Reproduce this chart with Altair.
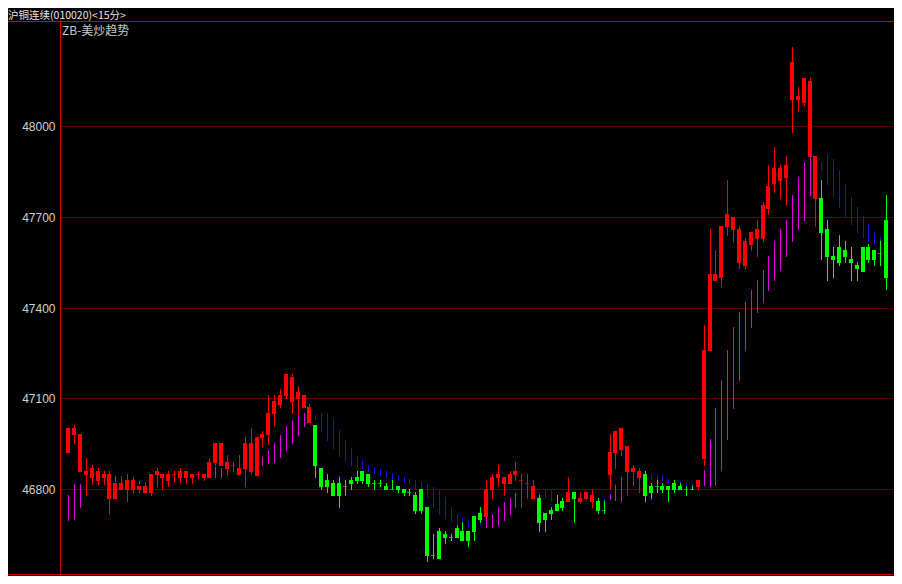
import altair as alt
import pandas as pd

TITLE = "沪铜连续(010020)<15分>"
SUBTITLE = "ZB-美炒趋势"
y_ticks = [46800, 47100, 47400, 47700, 48000]

opens = [
    46920, 46979, 46857, 46847, 46837, 46827, 46837, 46768, 46768, 46798,
    46798, 46798, 46798, 46788, 46788, 46847, 46837, 46827, 46850, 46837,
    46837, 46837, 46850, 46837, 46837, 46887, 46877, 46867, 46880, 46847,
    46867, 46857, 46844, 46969, 46979, 47049, 47078, 47108, 47088, 47098,
    47068, 47019, 47012, 46870, 46831, 46821, 46821, 46811, 46831, 46841,
    46860, 46850, 46821, 46821, 46811, 46801, 46811, 46801, 46791, 46781,
    46801, 46742, 46583, 46662, 46652, 46642, 46672, 46662, 46662, 46712,
    46722, 46709, 46798, 46837, 46818, 46818, 46847, 46831, 46821, 46768,
    46771, 46722, 46732, 46751, 46761, 46758, 46791, 46758, 46768, 46758,
    46761, 46732, 46847, 46920, 46930, 46857, 46857, 46837, 46850, 46811,
    46811, 46811, 46811, 46821, 46811, 46801, 46801, 46808, 46900, 47257,
    47488, 47498, 47666, 47656, 47547, 47538, 47607, 47627, 47627, 47726,
    47808, 47818, 47828, 48086, 48086, 48076, 47898, 47759, 47762, 47660,
    47571, 47600, 47590, 47561, 47541, 47600, 47600, 47590, 47581, 47690,
]
highs = [
    47002, 47012, 46983, 46903, 46880, 46870, 46860, 46860, 46821, 46844,
    46850, 46841, 46811, 46824, 46850, 46870, 46850, 46860, 46860, 46870,
    46860, 46850, 46860, 46850, 46903, 46953, 46953, 46913, 46890, 46913,
    46973, 47002, 46973, 46993, 47111, 47111, 47131, 47181, 47181, 47141,
    47111, 47082, 47012, 46870, 46850, 46831, 46841, 46831, 46841, 46860,
    46860, 46850, 46831, 46831, 46821, 46831, 46811, 46801, 46801, 46791,
    46801, 46742, 46652, 46672, 46662, 46652, 46682, 46692, 46662, 46712,
    46742, 46831, 46850, 46880, 46841, 46860, 46890, 46850, 46850, 46831,
    46781, 46722, 46742, 46781, 46771, 46841, 46791, 46791, 46791, 46801,
    46771, 46761, 46983, 46993, 47002, 46943, 46880, 46870, 46860, 46821,
    46831, 46821, 46811, 46831, 46821, 46811, 46811, 46831, 47343, 47660,
    47590, 47670, 47822, 47699, 47670, 47630, 47650, 47690, 47749, 47871,
    47931, 47871, 47901, 48261, 48129, 48159, 48159, 47901, 47822, 47690,
    47600, 47640, 47620, 47600, 47551, 47600, 47610, 47590, 47620, 47772,
]
lows = [
    46920, 46949, 46857, 46778, 46814, 46814, 46814, 46718, 46768, 46798,
    46758, 46788, 46788, 46788, 46778, 46808, 46798, 46808, 46821, 46821,
    46818, 46818, 46837, 46827, 46837, 46877, 46877, 46844, 46857, 46847,
    46808, 46847, 46844, 46939, 46946, 47009, 47068, 47098, 47049, 47049,
    47068, 47019, 46837, 46798, 46788, 46778, 46738, 46778, 46798, 46818,
    46818, 46808, 46798, 46808, 46798, 46798, 46788, 46778, 46778, 46718,
    46718, 46560, 46570, 46570, 46619, 46629, 46639, 46629, 46609, 46629,
    46689, 46709, 46768, 46808, 46778, 46818, 46827, 46738, 46768, 46768,
    46659, 46659, 46699, 46728, 46728, 46758, 46689, 46755, 46765, 46738,
    46718, 46718, 46798, 46867, 46910, 46781, 46824, 46788, 46758, 46768,
    46788, 46788, 46758, 46788, 46798, 46778, 46798, 46798, 46877, 47257,
    47488, 47468, 47637, 47617, 47528, 47528, 47587, 47567, 47617, 47706,
    47779, 47759, 47736, 47977, 48046, 48066, 47898, 47666, 47557, 47488,
    47498, 47538, 47547, 47488, 47488, 47518, 47547, 47538, 47538, 47458,
]
closes = [
    47002, 47002, 46983, 46860, 46870, 46860, 46850, 46850, 46821, 46821,
    46831, 46831, 46811, 46811, 46850, 46860, 46850, 46850, 46850, 46860,
    46860, 46850, 46850, 46850, 46890, 46953, 46953, 46890, 46880, 46870,
    46953, 46953, 46973, 46983, 47052, 47092, 47111, 47181, 47171, 47121,
    47111, 47072, 46877, 46808, 46808, 46778, 46778, 46811, 46818, 46827,
    46827, 46818, 46821, 46821, 46798, 46801, 46798, 46788, 46791, 46728,
    46728, 46580, 46583, 46570, 46639, 46642, 46639, 46629, 46629, 46659,
    46699, 46801, 46841, 46850, 46841, 46850, 46860, 46831, 46821, 46811,
    46689, 46699, 46718, 46728, 46738, 46791, 46768, 46771, 46791, 46781,
    46728, 46732, 46923, 46993, 47002, 46943, 46870, 46860, 46778, 46788,
    46811, 46798, 46798, 46798, 46798, 46801, 46801, 46831, 47260, 47511,
    47511, 47670, 47709, 47699, 47660, 47620, 47650, 47660, 47739, 47802,
    47861, 47861, 47871, 48211, 48099, 48159, 48149, 47901, 47647, 47567,
    47557, 47547, 47567, 47547, 47528, 47518, 47557, 47557, 47581, 47498,
]
# R = red (up) candle, G = green (down) candle
directions = (
    "RRRRRRRRRRRRRRRRRRRRRRRRRRRRRRRRRRRRRRRRRR"
    "GGGGGGGGGGGGGGGGGGGGGGGGGGGGG"
    "RRRRRRRRR"
    "GGGGG"
    "R"
    "G"
    "RRR"
    "GG"
    "RRRRRR"
    "GGGGGGGGG"
    "RRRRRRRRRRRRRRRRRRRRR"
    "GGGGGGGGGGGG"
)

# ZB-美炒趋势 indicator segments (M = magenta / rising, B = blue / falling)
ind_index = [
    0, 1, 2, 3, 4, 8, 9, 12, 13, 18, 19, 22, 24, 25, 26, 27, 28, 33, 34, 35, 36, 37, 38, 39, 40,
    42, 43, 44, 45, 46, 47, 48, 49, 50, 51, 52, 53, 54, 55, 56, 57, 58, 59, 60, 61, 62, 63, 64,
    65, 66, 67, 68, 70,
    71, 72, 73, 74, 75, 76, 78,
    80, 81, 82, 83, 88, 91,
    92, 93, 94, 95, 96,
    99, 100, 101, 102, 104, 105, 106,
    108, 109, 110, 111, 112, 113, 114, 115, 116, 117, 118, 119, 120, 121, 122, 123, 124, 125, 126,
    128, 129, 130, 131, 132, 133, 134, 135, 136, 137, 138,
]
ind_high = [
    46781, 46818, 46818, 46827, 46837, 46844, 46844, 46827, 46824, 46837, 46837, 46850, 46860,
    46874, 46870, 46874, 46883, 46907, 46930, 46953, 46979, 47009, 47029, 47045, 47052,
    47045, 47052, 47052, 47032, 46996, 46963, 46936, 46910, 46893, 46880, 46874, 46867, 46860,
    46854, 46847, 46841, 46834, 46831, 46824, 46818, 46808, 46798, 46775, 46742, 46718, 46705,
    46695, 46685,
    46709, 46718, 46742, 46758, 46771, 46788, 46798,
    46791, 46798, 46798, 46781, 46768, 46768,
    46784, 46814, 46841, 46857, 46880,
    46850, 46850, 46844, 46834, 46827, 46821, 46821,
    46864, 46966, 47069, 47161, 47260, 47336, 47386, 47419, 47458, 47491, 47524, 47571, 47620,
    47660, 47690, 47772, 47832, 47881, 47898,
    47881, 47907, 47891, 47854, 47808, 47765, 47732, 47703, 47676, 47650, 47633,
]
ind_low = [
    46695, 46699, 46738, 46778, 46814, 46824, 46837, 46818, 46818, 46821, 46821, 46834, 46837,
    46837, 46837, 46844, 46857, 46877, 46883, 46887, 46903, 46926, 46949, 46976, 47006,
    47029, 46993, 46959, 46933, 46907, 46890, 46877, 46870, 46864, 46857, 46850, 46844, 46837,
    46831, 46827, 46821, 46818, 46798, 46798, 46771, 46738, 46715, 46702, 46692, 46682, 46679,
    46672, 46679,
    46672, 46672, 46679, 46695, 46715, 46738, 46768,
    46781, 46768, 46758, 46751, 46761, 46751,
    46765, 46761, 46758, 46781, 46811,
    46831, 46811, 46824, 46821, 46821, 46811, 46811,
    46811, 46808, 46811, 46860, 46963, 47065, 47158, 47257, 47333, 47382, 47415, 47455, 47488,
    47521, 47567, 47617, 47656, 47686, 47769,
    47851, 47805, 47762, 47729, 47699, 47673, 47647, 47630, 47620, 47610, 47600,
]
ind_side = (
    "MMMMMMMMMMMMMMMMMMMMMMMMM"
    "BBBBBBBBBBBBBBBBBBBBBBBBBBBB"
    "MMMMMMM"
    "BBBBBB"
    "MMMMM"
    "BBBBBBB"
    "MMMMMMMMMMMMMMMMMMM"
    "BBBBBBBBBBB"
)

candles = pd.DataFrame({
    "i": list(range(len(opens))),
    "open": opens, "high": highs, "low": lows, "close": closes,
    "dir": list(directions),
})
indicator = pd.DataFrame({
    "i": ind_index, "top": ind_high, "bottom": ind_low, "side": list(ind_side),
})

RED = "#ff0000"
GREEN = "#00ff00"
MAGENTA = "#e000e0"
BLUE = "#1414dc"
LINE = "#c80000"
W, H = 834, 556

xscale = alt.Scale(domain=[-0.554, 139.5], nice=False, zero=False, round=True)
yscale = alt.Scale(domain=[46517, 48353], nice=False, zero=False, round=True)
yaxis = alt.Axis(
    values=y_ticks, format="d", grid=True, gridColor="#b40000", gridDash=[1, 1], gridWidth=1,
    domain=True, domainColor=LINE, domainWidth=1, ticks=False,
    labelColor="#d0d0d0", labelFont="Liberation Sans", labelFontSize=12,
    labelPadding=5, title=None,
)


def X():
    return alt.X("i:Q", scale=xscale, axis=None)


def Y(field):
    return alt.Y(f"{field}:Q", scale=yscale, axis=yaxis)


candle_color = alt.condition("datum.dir == 'R'", alt.value(RED), alt.value(GREEN))

ind_layer = alt.Chart(indicator).mark_rule(strokeWidth=1, xOffset=0.5).encode(
    x=X(), y=Y("top"), y2="bottom",
    color=alt.condition("datum.side == 'M'", alt.value(MAGENTA), alt.value(BLUE)),
)
wicks = alt.Chart(candles).mark_rule(strokeWidth=1, xOffset=0.5).encode(
    x=X(), y=Y("high"), y2="low", color=candle_color,
)
bodies = alt.Chart(candles).mark_bar(size=4).encode(
    x=X(), y=Y("open"), y2="close", color=candle_color,
)
dojis = alt.Chart(candles).transform_filter("datum.open == datum.close").mark_tick(
    orient="horizontal", size=4, thickness=1, yOffset=0.5
).encode(x=X(), y=Y("close"), color=candle_color)

one = pd.DataFrame({"k": [0]})
top_line = alt.Chart(one).mark_rule(color=LINE, strokeWidth=1).encode(
    x=alt.value(-52), x2=alt.value(W), y=alt.value(2.5)
)
bottom_line = alt.Chart(one).mark_rule(color=LINE, strokeWidth=1).encode(
    x=alt.value(-52), x2=alt.value(W), y=alt.value(H - 0.5)
)
title_text = alt.Chart(one).mark_text(
    align="left", baseline="middle", font="Noto Sans CJK SC", fontSize=10.5, color="#e6e6e6"
).encode(x=alt.value(-52), y=alt.value(-3.5), text=alt.value(TITLE))
sub_text = alt.Chart(one).mark_text(
    align="left", baseline="middle", font="Noto Sans CJK SC", fontSize=12, color="#c8c8c8"
).encode(x=alt.value(2), y=alt.value(12), text=alt.value(SUBTITLE))

chart = alt.layer(
    ind_layer, wicks, bodies, dojis, top_line, bottom_line, title_text, sub_text
).properties(
    width=W, height=H, background="#000000",
    padding={"left": 52, "top": 11, "right": 0, "bottom": 1},
    autosize=alt.AutoSizeParams(type="none"),
).configure_view(stroke=None)

chart.save("out.html", embed_options={"renderer": "svg", "actions": False})
